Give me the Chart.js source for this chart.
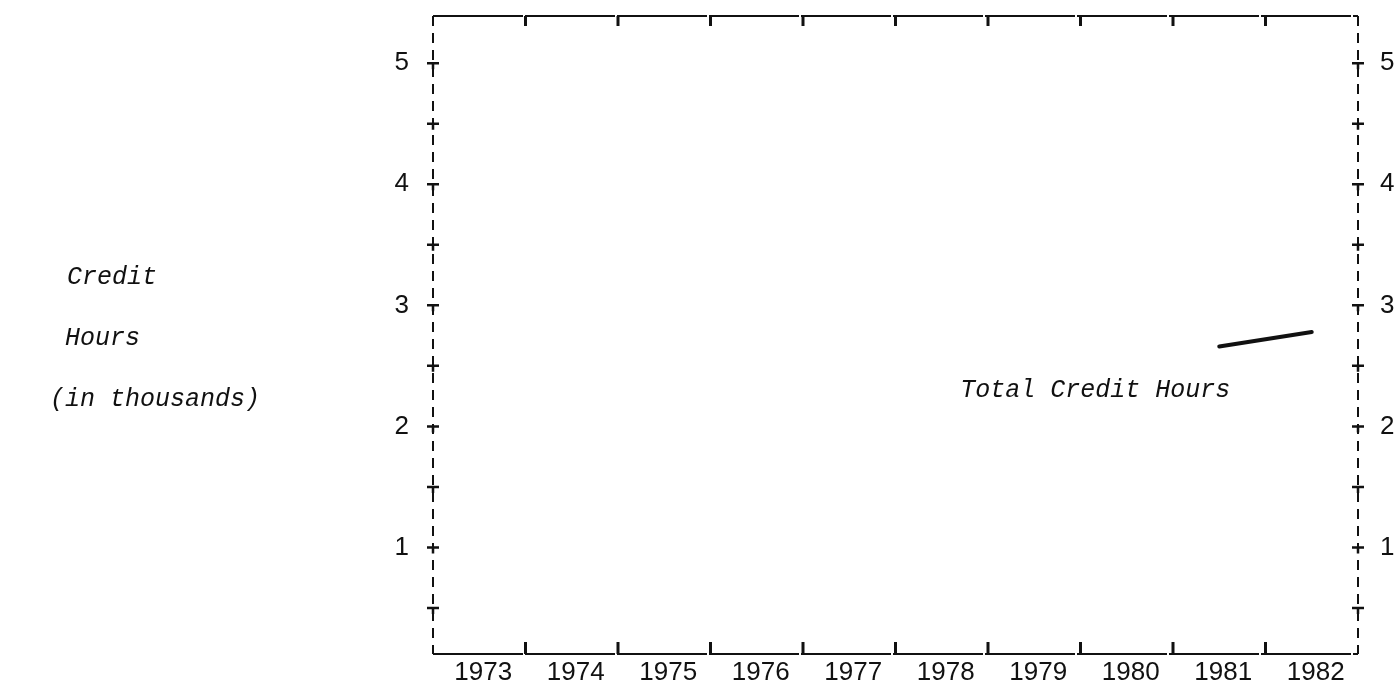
<!DOCTYPE html>
<html>
<head>
<meta charset="utf-8">
<title>Total Credit Hours</title>
<script src="https://cdn.jsdelivr.net/npm/chart.js@4.4.1/dist/chart.umd.min.js"></script>
<style>
  html, body { margin: 0; padding: 0; background: #fff; }
  canvas { display: block; }
</style>
</head>
<body>
<canvas id="chart" width="1399" height="686"></canvas>
<script>
// Data
const years = [1973, 1974, 1975, 1976, 1977, 1978, 1979, 1980, 1981, 1982];
const seriesYears = [1981, 1982];
const totalCreditHours = [2.66, 2.78]; // thousands
const yTickMarks = [0.5, 1, 1.5, 2, 2.5, 3, 3.5, 4, 4.5, 5];
const titleLines = ['Credit', 'Hours', '(in thousands)'];
const seriesLabel = 'Total Credit Hours';

const INK = '#111';
const TYPEWRITER = 'italic 25px "Liberation Mono", "DejaVu Sans Mono", monospace';
const TICK_FONT = { family: '"Liberation Sans", Arial, sans-serif', size: 26 };

const X_MIN = 1972.5, X_MAX = 1982.5;
const Y_MIN = 0.12, Y_MAX = 5.39;

/**
 * Draws the typed frame: dashed sides, crossbars, year marks,
 * plus the series label and the left-hand title
 */
const frameMarks = {
    id: 'frameMarks',
    afterDraw(chart) {
        const { ctx, chartArea: area, scales } = chart;
        const x = scales.x, y = scales.y;
        ctx.save();
        ctx.strokeStyle = INK;
        ctx.lineCap = 'butt';

        // top and bottom: long strokes with tiny breaks
        ctx.lineWidth = 2;
        ctx.setLineDash([90, 2]);
        ctx.beginPath();
        ctx.moveTo(area.left, area.top);
        ctx.lineTo(area.right, area.top);
        ctx.moveTo(area.left, area.bottom);
        ctx.lineTo(area.right, area.bottom);
        ctx.stroke();

        // left and right: typed dashes
        ctx.setLineDash([10, 7]);
        ctx.beginPath();
        ctx.moveTo(area.left, area.top);
        ctx.lineTo(area.left, area.bottom);
        ctx.moveTo(area.right, area.top);
        ctx.lineTo(area.right, area.bottom);
        ctx.stroke();
        ctx.setLineDash([]);

        // horizontal crossbars on both vertical axes
        ctx.lineWidth = 2.5;
        yTickMarks.forEach(v => {
            const py = y.getPixelForValue(v);
            [area.left, area.right].forEach(px => {
                ctx.beginPath();
                ctx.moveTo(px - 6, py);
                ctx.lineTo(px + 6, py);
                ctx.moveTo(px, py);
                ctx.lineTo(px, py + 6);
                ctx.stroke();
            });
        });

        // short marks between the years, inside the box, top and bottom
        ctx.lineWidth = 3;
        years.slice(0, -1).forEach(yr => {
            const px = x.getPixelForValue(yr + 0.5);
            ctx.beginPath();
            ctx.moveTo(px, area.bottom);
            ctx.lineTo(px, area.bottom - 12);
            ctx.moveTo(px, area.top);
            ctx.lineTo(px, area.top + 10);
            ctx.stroke();
        });

        // series label
        ctx.fillStyle = INK;
        ctx.font = TYPEWRITER;
        ctx.textBaseline = 'middle';
        ctx.textAlign = 'left';
        ctx.fillText(seriesLabel, x.getPixelForValue(1978.2), y.getPixelForValue(2.3));

        // left title, typed in three lines
        const titleX = [67, 65, 50];
        titleLines.forEach((line, i) => {
            ctx.fillText(line, titleX[i], 277 + i * 61);
        });
        ctx.restore();
    }
};

const noBorder = { display: false };
const noGrid = { display: false, drawTicks: false };

const integerLabel = v => (Number.isInteger(v) ? String(v) : '');

// vertical scales: fixed width, no end padding for labels
const fitVertical = width => s => {
    s.width = width;
    s.paddingTop = 0;
    s.paddingBottom = 0;
};
const fitHorizontal = height => s => {
    s.height = height;
    s.paddingLeft = 0;
    s.paddingRight = 0;
};

const chart = new Chart(document.getElementById('chart'), {
    type: 'line',
    data: {
        datasets: [{
            label: seriesLabel,
            data: seriesYears.map((yr, i) => ({ x: yr, y: totalCreditHours[i] })),
            borderColor: INK,
            borderWidth: 4,
            borderCapStyle: 'round',
            pointRadius: 0,
            tension: 0
        }]
    },
    options: {
        responsive: false,
        animation: false,
        devicePixelRatio: 1,
        layout: { padding: 0 },
        plugins: {
            legend: { display: false },
            tooltip: { enabled: false }
        },
        scales: {
            x: {
                type: 'linear',
                position: 'bottom',
                min: X_MIN,
                max: X_MAX,
                grid: noGrid,
                border: noBorder,
                afterBuildTicks: s => { s.ticks = years.map(v => ({ value: v })); },
                afterFit: fitHorizontal(32),
                ticks: {
                    color: INK,
                    font: TICK_FONT,
                    padding: 3,
                    labelOffset: 4,
                    maxRotation: 0,
                    autoSkip: false,
                    callback: v => String(v)
                }
            },
            x2: {
                type: 'linear',
                position: 'top',
                min: X_MIN,
                max: X_MAX,
                grid: noGrid,
                border: noBorder,
                ticks: { display: false },
                afterFit: fitHorizontal(16)
            },
            y: {
                type: 'linear',
                position: 'left',
                min: Y_MIN,
                max: Y_MAX,
                grid: noGrid,
                border: noBorder,
                afterBuildTicks: s => { s.ticks = yTickMarks.map(v => ({ value: v })); },
                afterFit: fitVertical(433),
                ticks: {
                    color: INK,
                    font: TICK_FONT,
                    padding: 24,
                    autoSkip: false,
                    callback: integerLabel
                }
            },
            y2: {
                type: 'linear',
                position: 'right',
                min: Y_MIN,
                max: Y_MAX,
                grid: noGrid,
                border: noBorder,
                afterBuildTicks: s => { s.ticks = yTickMarks.map(v => ({ value: v })); },
                afterFit: fitVertical(41),
                ticks: {
                    color: INK,
                    font: TICK_FONT,
                    padding: 22,
                    autoSkip: false,
                    callback: integerLabel
                }
            }
        }
    },
    plugins: [frameMarks]
});
</script>
</body>
</html>
